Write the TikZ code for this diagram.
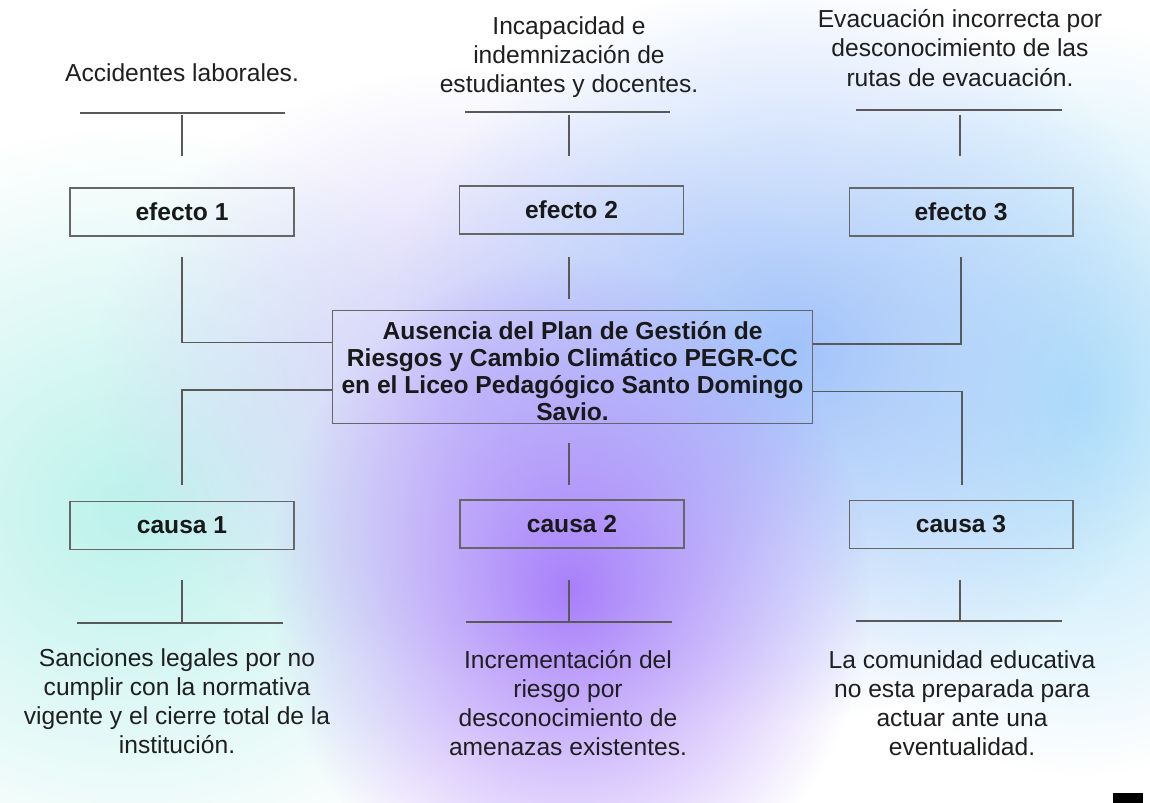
\documentclass[tikz,border=0pt]{standalone}
\usepackage{fontspec}
\setmainfont{Liberation Sans}
\usepackage{xcolor}
\usepackage{tikz}
\usetikzlibrary{positioning}
\usetikzlibrary{fadings}

\definecolor{aguamarina}{RGB}{188,242,236}
\definecolor{lavanda}{RGB}{212,206,250}
\definecolor{azulcielo}{RGB}{160,194,250}
\definecolor{violeta}{RGB}{168,128,250}
\definecolor{celeste}{RGB}{178,228,250}

% mancha difusa
\tikzfading[name=difuso, inner color=transparent!0, outer color=transparent!100]

\tikzset{
  caja/.style={draw=black!60, line width=0.6pt, minimum width=4.48cm, minimum height=0.96cm, inner sep=0pt, text=black!90, font=\fontsize{14}{15.3}\selectfont\bfseries},
  texto/.style={align=center, text=black!88, inner sep=0pt, font=\fontsize{14}{16.6}\selectfont},
  linea/.style={draw=black!65, line width=0.8pt},
  mancha/.style={path fading=difuso}
}

\begin{document}
\begin{tikzpicture}[x=0.02cm, y=-0.02cm]
        \useasboundingbox (0,0) rectangle (1150,803);
        % fondo
        \fill[white] (0,0) rectangle (1150,803);
        \fill[aguamarina, mancha] (130,510) ellipse (8.4cm and 7.6cm);
        \fill[celeste, mancha] (1080,400) ellipse (6cm and 7.5cm);
        \fill[lavanda, mancha] (470,370) ellipse (7.5cm and 6cm);
        \fill[azulcielo, mancha] (790,350) ellipse (8cm and 7.4cm);
        \fill[violeta, mancha] (570,590) ellipse (6cm and 6.6cm);
        \fill[black] (1113,793) rectangle (1143,803);

        % problema central
        \node[caja, align=center, minimum width=9.62cm, minimum height=2.26cm] (prob) at (572.5,367) {\rule{0pt}{15pt}Ausencia del Plan de Gestión de\\Riesgos y Cambio Climático PEGR-CC\\en el Liceo Pedagógico Santo Domingo\\Savio.};

        % efectos
        \node[caja] (ef1) at (182,212) {efecto 1};
        \node[caja] (ef2) at (571.5,210) {efecto 2};
        \node[caja] (ef3) at (961,212) {efecto 3};

        \node[texto] (txe1) at (182,73) {Accidentes laborales.};
        \node[texto] (txe2) at (569,57) {Incapacidad e\\indemnización de\\estudiantes y docentes.};
        \node[texto] (txe3) at (960,48) {Evacuación incorrecta por\\desconocimiento de las\\rutas de evacuación.};

        % causas
        \node[caja] (ca1) at (182,525.5) {causa 1};
        \node[caja] (ca2) at (572,524) {causa 2};
        \node[caja] (ca3) at (961,524.5) {causa 3};

        \node[texto] (txc1) at (177,701) {Sanciones legales por no\\cumplir con la normativa\\vigente y el cierre total de la\\institución.};
        \node[texto] (txc2) at (568,703) {Incrementación del\\riesgo por\\desconocimiento de\\amenazas existentes.};
        \node[texto] (txc3) at (962,703) {La comunidad educativa\\no esta preparada para\\actuar ante una\\eventualidad.};

        % barras superiores
        \coordinate (ba1) at (80,113);  \coordinate (bb1) at (285,113);
        \coordinate (ba2) at (465,112); \coordinate (bb2) at (670,112);
        \coordinate (ba3) at (856,110); \coordinate (bb3) at (1062,110);
        \draw[linea] (ba1) -- (bb1);
        \draw[linea] (ba2) -- (bb2);
        \draw[linea] (ba3) -- (bb3);
        \draw[linea] (182,115) -- (182,156);
        \draw[linea] (569,115) -- (569,156);
        \draw[linea] (960,115) -- (960,156);

        % efectos al problema
        \coordinate (ue1) at (182,257);
        \coordinate (ue2) at (569,257);
        \coordinate (ue3) at (961,257);
        \draw[linea] (ue1) |- ([yshift=14pt]prob.west);
        \draw[linea] (ue2) -- (569,299);
        \draw[linea] (ue3) |- ([yshift=13pt]prob.east);

        % problema a las causas
        \coordinate (uc1) at (182,485);
        \coordinate (uc2) at (569,485);
        \coordinate (uc3) at (962,485);
        \draw[linea] ([yshift=-13pt]prob.west) -| (uc1);
        \draw[linea] (569,443) -- (uc2);
        \draw[linea] ([yshift=-14pt]prob.east) -| (uc3);

        % barras inferiores
        \coordinate (bc1) at (77,623);  \coordinate (bd1) at (283,623);
        \coordinate (bc2) at (466,622); \coordinate (bd2) at (672,622);
        \coordinate (bc3) at (856,621); \coordinate (bd3) at (1062,621);
        \draw[linea] (bc1) -- (bd1);
        \draw[linea] (bc2) -- (bd2);
        \draw[linea] (bc3) -- (bd3);
        \draw[linea] (182,580) -- (182,623);
        \draw[linea] (569,580) -- (569,622);
        \draw[linea] (960,580) -- (960,621);
\end{tikzpicture}
\end{document}
